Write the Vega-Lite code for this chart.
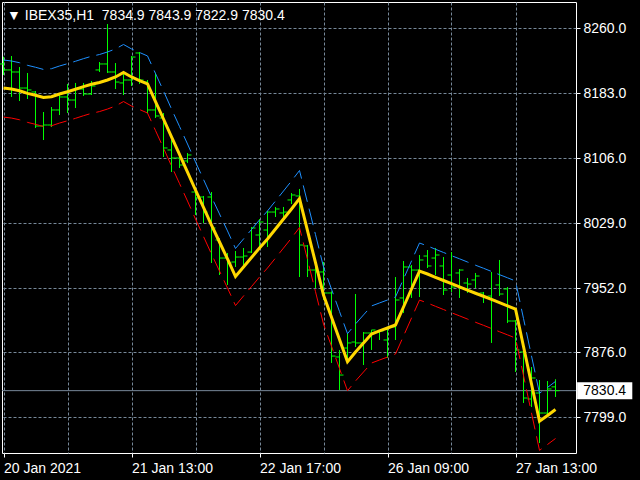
{
  "$schema": "https://vega.github.io/schema/vega-lite/v6.json",
  "width": 574,
  "height": 451,
  "autosize": {"type": "none"},
  "padding": {"left": 2, "top": 2, "right": 64, "bottom": 27},
  "background": "#000000",
  "config": {"view": {"stroke": "#ffffff", "strokeWidth": 1, "fill": "#000000"}},
  "resolve": {"axis": {"x": "independent", "y": "independent"}},
  "datasets": {
    "bars": [
      {"i":0,"o":8217.4,"h":8226.0,"l":8204.3,"c":8210.3,"ma":8188.9,"up":8222.1,"dn":8154.5},
      {"i":1,"o":8210.3,"h":8226.8,"l":8178.3,"c":8207.9,"ma":8187.7,"up":8220.9,"dn":8153.3},
      {"i":2,"o":8207.9,"h":8213.8,"l":8173.5,"c":8188.9,"ma":8185.7,"up":8218.9,"dn":8151.3},
      {"i":3,"o":8188.9,"h":8206.7,"l":8175.9,"c":8186.6,"ma":8182.6,"up":8215.8,"dn":8148.2},
      {"i":4,"o":8184.2,"h":8185.4,"l":8141.5,"c":8143.9,"ma":8180.3,"up":8213.5,"dn":8145.9},
      {"i":5,"o":8143.9,"h":8160.5,"l":8127.3,"c":8145.1,"ma":8177.7,"up":8210.9,"dn":8143.3},
      {"i":6,"o":8145.1,"h":8166.4,"l":8142.7,"c":8162.9,"ma":8178.6,"up":8211.8,"dn":8144.2},
      {"i":7,"o":8162.9,"h":8180.6,"l":8156.9,"c":8178.3,"ma":8181.8,"up":8215.0,"dn":8147.4},
      {"i":8,"o":8178.3,"h":8193.7,"l":8159.3,"c":8174.7,"ma":8184.5,"up":8217.7,"dn":8150.1},
      {"i":9,"o":8174.7,"h":8194.9,"l":8165.2,"c":8187.7,"ma":8187.4,"up":8220.6,"dn":8153.0},
      {"i":10,"o":8187.7,"h":8194.9,"l":8179.5,"c":8181.8,"ma":8190.5,"up":8223.7,"dn":8156.1},
      {"i":11,"o":8181.8,"h":8197.2,"l":8180.6,"c":8191.3,"ma":8193.3,"up":8226.5,"dn":8158.9},
      {"i":12,"o":8210.3,"h":8219.7,"l":8207.9,"c":8217.4,"ma":8195.4,"up":8228.6,"dn":8161.0},
      {"i":13,"o":8217.4,"h":8264.7,"l":8206.7,"c":8207.9,"ma":8198.4,"up":8231.6,"dn":8164.0},
      {"i":14,"o":8207.9,"h":8218.5,"l":8187.7,"c":8196.0,"ma":8202.0,"up":8235.2,"dn":8167.6},
      {"i":15,"o":8194.9,"h":8207.3,"l":8180.6,"c":8198.4,"ma":8207.3,"up":8240.5,"dn":8172.9},
      {"i":16,"o":8198.4,"h":8226.8,"l":8191.3,"c":8225.6,"ma":8202.0,"up":8235.2,"dn":8167.6},
      {"i":17,"o":8230.4,"h":8231.6,"l":8193.7,"c":8198.4,"ma":8197.8,"up":8231.0,"dn":8163.4},
      {"i":18,"o":8196.0,"h":8198.4,"l":8159.3,"c":8162.9,"ma":8193.7,"up":8226.9,"dn":8159.3},
      {"i":19,"o":8162.9,"h":8206.7,"l":8153.4,"c":8155.8,"ma":8172.9,"up":8206.1,"dn":8138.5},
      {"i":20,"o":8153.4,"h":8159.3,"l":8107.2,"c":8117.9,"ma":8152.2,"up":8185.4,"dn":8117.8},
      {"i":21,"o":8115.5,"h":8127.3,"l":8089.4,"c":8106.0,"ma":8130.9,"up":8164.1,"dn":8096.5},
      {"i":22,"o":8106.0,"h":8107.2,"l":8094.2,"c":8097.7,"ma":8110.2,"up":8143.4,"dn":8075.8},
      {"i":23,"o":8102.5,"h":8111.9,"l":8100.1,"c":8109.6,"ma":8089.4,"up":8122.6,"dn":8055.0},
      {"i":24,"o":8065.7,"h":8070.5,"l":8038.5,"c":8058.6,"ma":8068.1,"up":8101.3,"dn":8033.7},
      {"i":25,"o":8059.8,"h":8061.0,"l":8029.0,"c":8042.0,"ma":8047.4,"up":8080.6,"dn":8013.0},
      {"i":26,"o":8059.8,"h":8065.7,"l":7981.6,"c":8023.1,"ma":8026.6,"up":8059.8,"dn":7992.2},
      {"i":27,"o":8008.9,"h":8011.2,"l":7967.4,"c":7987.5,"ma":8006.5,"up":8039.7,"dn":7972.1},
      {"i":28,"o":7987.5,"h":7993.5,"l":7955.6,"c":7981.6,"ma":7986.4,"up":8019.6,"dn":7952.0},
      {"i":29,"o":7982.8,"h":7995.8,"l":7976.9,"c":7988.7,"ma":7965.6,"up":7998.8,"dn":7931.2},
      {"i":30,"o":7988.7,"h":7999.4,"l":7976.9,"c":7989.9,"ma":7976.9,"up":8010.1,"dn":7942.5},
      {"i":31,"o":7994.6,"h":8024.3,"l":7993.5,"c":8023.1,"ma":7988.1,"up":8021.3,"dn":7953.7},
      {"i":32,"o":8014.8,"h":8033.7,"l":8000.6,"c":8030.2,"ma":7999.4,"up":8032.6,"dn":7965.0},
      {"i":33,"o":8020.7,"h":8043.2,"l":8000.6,"c":8042.0,"ma":8010.1,"up":8043.3,"dn":7975.7},
      {"i":34,"o":8042.0,"h":8048.0,"l":8036.1,"c":8045.6,"ma":8021.9,"up":8055.1,"dn":7987.5},
      {"i":35,"o":8040.9,"h":8048.0,"l":8036.1,"c":8042.0,"ma":8033.7,"up":8066.9,"dn":7999.3},
      {"i":36,"o":8056.3,"h":8064.5,"l":8051.5,"c":8062.2,"ma":8045.6,"up":8078.8,"dn":8011.2},
      {"i":37,"o":8061.0,"h":8069.3,"l":7965.0,"c":8002.9,"ma":8058.0,"up":8091.2,"dn":8023.6},
      {"i":38,"o":8001.8,"h":8002.9,"l":7965.0,"c":7973.3,"ma":8020.1,"up":8053.3,"dn":7985.7},
      {"i":39,"o":7973.3,"h":7976.9,"l":7952.0,"c":7971.0,"ma":7982.0,"up":8015.2,"dn":7947.6},
      {"i":40,"o":7971.0,"h":7982.8,"l":7937.8,"c":7946.1,"ma":7943.7,"up":7976.9,"dn":7909.3},
      {"i":41,"o":7946.1,"h":7948.0,"l":7863.2,"c":7871.4,"ma":7917.4,"up":7950.6,"dn":7883.0},
      {"i":42,"o":7870.3,"h":7878.6,"l":7831.2,"c":7848.9,"ma":7891.0,"up":7924.2,"dn":7856.6},
      {"i":43,"o":7880.9,"h":7898.7,"l":7866.7,"c":7886.9,"ma":7864.7,"up":7897.9,"dn":7830.3},
      {"i":44,"o":7888.0,"h":7944.9,"l":7882.1,"c":7886.9,"ma":7876.2,"up":7909.4,"dn":7841.8},
      {"i":45,"o":7886.9,"h":7899.9,"l":7860.8,"c":7898.7,"ma":7886.9,"up":7920.1,"dn":7852.5},
      {"i":46,"o":7898.7,"h":7902.3,"l":7878.6,"c":7902.3,"ma":7897.5,"up":7930.7,"dn":7863.1},
      {"i":47,"o":7899.9,"h":7902.3,"l":7890.4,"c":7901.1,"ma":7901.1,"up":7934.3,"dn":7866.7},
      {"i":48,"o":7890.4,"h":7905.8,"l":7869.1,"c":7905.8,"ma":7904.6,"up":7937.8,"dn":7870.2},
      {"i":49,"o":7905.8,"h":7965.0,"l":7890.4,"c":7937.8,"ma":7908.2,"up":7941.4,"dn":7873.8},
      {"i":50,"o":7940.2,"h":7984.0,"l":7922.4,"c":7976.9,"ma":7929.5,"up":7962.7,"dn":7895.1},
      {"i":51,"o":7976.9,"h":7979.3,"l":7940.2,"c":7973.3,"ma":7950.8,"up":7984.0,"dn":7916.4},
      {"i":52,"o":7973.3,"h":7991.1,"l":7941.3,"c":7985.2,"ma":7972.1,"up":8005.3,"dn":7937.7},
      {"i":53,"o":7989.9,"h":7997.0,"l":7975.7,"c":7978.1,"ma":7968.6,"up":8001.8,"dn":7934.2},
      {"i":54,"o":7987.5,"h":7999.4,"l":7967.4,"c":7991.1,"ma":7964.7,"up":7997.9,"dn":7930.3},
      {"i":55,"o":7978.1,"h":7988.7,"l":7943.7,"c":7949.6,"ma":7960.9,"up":7994.1,"dn":7926.5},
      {"i":56,"o":7967.4,"h":7994.6,"l":7947.3,"c":7953.2,"ma":7957.1,"up":7990.3,"dn":7922.7},
      {"i":57,"o":7969.8,"h":7974.5,"l":7940.2,"c":7973.3,"ma":7953.4,"up":7986.6,"dn":7919.0},
      {"i":58,"o":7957.9,"h":7963.9,"l":7946.1,"c":7956.7,"ma":7949.6,"up":7982.8,"dn":7915.2},
      {"i":59,"o":7961.5,"h":7969.8,"l":7952.0,"c":7966.2,"ma":7945.8,"up":7979.0,"dn":7911.4},
      {"i":60,"o":7946.1,"h":7947.3,"l":7934.2,"c":7941.3,"ma":7942.2,"up":7975.4,"dn":7907.8},
      {"i":61,"o":7942.5,"h":7971.0,"l":7886.9,"c":7937.8,"ma":7938.4,"up":7971.6,"dn":7904.0},
      {"i":62,"o":7955.6,"h":7985.2,"l":7942.5,"c":7944.9,"ma":7934.6,"up":7967.8,"dn":7900.2},
      {"i":63,"o":7950.8,"h":7953.2,"l":7910.5,"c":7912.9,"ma":7930.9,"up":7964.1,"dn":7896.5},
      {"i":64,"o":7912.9,"h":7914.0,"l":7852.5,"c":7878.6,"ma":7927.1,"up":7960.3,"dn":7892.7},
      {"i":65,"o":7876.2,"h":7879.7,"l":7815.8,"c":7821.7,"ma":7882.7,"up":7915.9,"dn":7848.3},
      {"i":66,"o":7820.5,"h":7858.4,"l":7811.0,"c":7845.4,"ma":7838.3,"up":7871.5,"dn":7803.9},
      {"i":67,"o":7827.6,"h":7843.0,"l":7768.4,"c":7803.9,"ma":7794.1,"up":7827.3,"dn":7759.7},
      {"i":68,"o":7803.9,"h":7841.8,"l":7799.2,"c":7832.4,"ma":7801.0,"up":7834.2,"dn":7766.6},
      {"i":69,"o":7834.9,"h":7843.9,"l":7822.9,"c":7830.4,"ma":7808.1,"up":7841.3,"dn":7773.7}
    ],
    "bid": [{"price": 7830.4, "label": "7830.4"}],
    "head": [{"t": "▼ IBEX35,H1\u00a0\u00a07834.9 7843.9 7822.9 7830.4"}]
  },
  "layer": [
    {
      "data": {"name": "bid"},
      "mark": {"type": "rule", "color": "#778899", "strokeWidth": 1},
      "encoding": {
        "y": {"field": "price", "type": "quantitative", "scale": {"domain": [7756.54, 8290.8], "nice": false, "zero": false}, "axis": null}
      }
    },
    {
      "data": {"name": "bars"},
      "mark": {"type": "rule", "color": "#00ff00", "strokeWidth": 1},
      "encoding": {
        "x": {"field": "i", "type": "quantitative", "scale": {"domain": [-0.1875, 71.5625], "nice": false, "zero": false},
          "axis": {"values": [0, 8, 16, 24, 32, 40, 48, 56, 64], "title": null, "grid": true, "gridColor": "#778899", "gridDash": [3, 2], "gridWidth": 1, "domain": false, "tickColor": "#ffffff", "tickSize": 4, "tickWidth": 1,
            "tickOpacity": {"condition": {"test": "datum.value % 16 === 0", "value": 1}, "value": 0},
            "labelExpr": "datum.value == 0 ? '20 Jan 2021' : datum.value == 16 ? '21 Jan 13:00' : datum.value == 32 ? '22 Jan 17:00' : datum.value == 48 ? '26 Jan 09:00' : datum.value == 64 ? '27 Jan 13:00' : ''",
            "labelColor": "#ffffff", "labelFont": "Liberation Sans", "labelFontSize": 14, "labelAlign": "left", "labelBaseline": "top", "labelPadding": 4, "labelOverlap": false, "labelBound": false, "labelFlush": false}},
        "y": {"field": "l", "type": "quantitative", "scale": {"domain": [7756.54, 8290.8], "nice": false, "zero": false},
          "axis": {"orient": "right", "values": [7799, 7876, 7952, 8029, 8106, 8183, 8260], "format": ".1f", "title": null, "grid": true, "gridColor": "#778899", "gridDash": [3, 2], "gridWidth": 1, "domain": false, "tickColor": "#ffffff", "tickSize": 4, "labelColor": "#ffffff", "labelFont": "Liberation Sans", "labelFontSize": 14, "labelPadding": 3, "labelAlign": "left", "labelBaseline": "middle", "labelOverlap": false, "labelBound": false, "labelFlush": false}},
        "y2": {"field": "h"}
      }
    },
    {
      "data": {"name": "bars"},
      "mark": {"type": "tick", "orient": "horizontal", "color": "#00ff00", "size": 4, "thickness": 1, "xOffset": -2, "opacity": 1},
      "encoding": {
        "x": {"field": "i", "type": "quantitative", "scale": {"domain": [-0.1875, 71.5625], "nice": false, "zero": false}, "axis": null},
        "y": {"field": "o", "type": "quantitative", "scale": {"domain": [7756.54, 8290.8], "nice": false, "zero": false}, "axis": null}
      }
    },
    {
      "data": {"name": "bars"},
      "mark": {"type": "tick", "orient": "horizontal", "color": "#00ff00", "size": 4, "thickness": 1, "xOffset": 2, "opacity": 1},
      "encoding": {
        "x": {"field": "i", "type": "quantitative", "scale": {"domain": [-0.1875, 71.5625], "nice": false, "zero": false}, "axis": null},
        "y": {"field": "c", "type": "quantitative", "scale": {"domain": [7756.54, 8290.8], "nice": false, "zero": false}, "axis": null}
      }
    },
    {
      "data": {"name": "bars"},
      "mark": {"type": "line", "color": "#1e90ff", "strokeWidth": 1, "strokeDash": [17, 7]},
      "encoding": {
        "x": {"field": "i", "type": "quantitative", "scale": {"domain": [-0.1875, 71.5625], "nice": false, "zero": false}, "axis": null},
        "y": {"field": "up", "type": "quantitative", "scale": {"domain": [7756.54, 8290.8], "nice": false, "zero": false}, "axis": null}
      }
    },
    {
      "data": {"name": "bars"},
      "mark": {"type": "line", "color": "#ff0000", "strokeWidth": 1, "strokeDash": [17, 7]},
      "encoding": {
        "x": {"field": "i", "type": "quantitative", "scale": {"domain": [-0.1875, 71.5625], "nice": false, "zero": false}, "axis": null},
        "y": {"field": "dn", "type": "quantitative", "scale": {"domain": [7756.54, 8290.8], "nice": false, "zero": false}, "axis": null}
      }
    },
    {
      "data": {"name": "bars"},
      "mark": {"type": "line", "color": "#ffd700", "strokeWidth": 3},
      "encoding": {
        "x": {"field": "i", "type": "quantitative", "scale": {"domain": [-0.1875, 71.5625], "nice": false, "zero": false}, "axis": null},
        "y": {"field": "ma", "type": "quantitative", "scale": {"domain": [7756.54, 8290.8], "nice": false, "zero": false}, "axis": null}
      }
    },
    {
      "data": {"name": "bid"},
      "mark": {"type": "rect", "color": "#ffffff", "height": 17},
      "encoding": {
        "x": {"datum": 71.7, "type": "quantitative", "scale": {"domain": [-0.1875, 71.5625], "nice": false, "zero": false}, "axis": null},
        "x2": {"datum": 78.6},
        "y": {"field": "price", "type": "quantitative", "scale": {"domain": [7756.54, 8290.8], "nice": false, "zero": false}, "axis": null}
      }
    },
    {
      "data": {"name": "bid"},
      "mark": {"type": "text", "color": "#000000", "font": "Liberation Sans", "fontSize": 14, "align": "center", "baseline": "middle"},
      "encoding": {
        "x": {"datum": 75.15, "type": "quantitative", "scale": {"domain": [-0.1875, 71.5625], "nice": false, "zero": false}, "axis": null},
        "y": {"field": "price", "type": "quantitative", "scale": {"domain": [7756.54, 8290.8], "nice": false, "zero": false}, "axis": null},
        "text": {"field": "label", "type": "nominal"}
      }
    },
    {
      "data": {"name": "head"},
      "mark": {"type": "text", "color": "#ffffff", "font": "Liberation Sans", "fontSize": 14, "align": "left", "baseline": "alphabetic"},
      "encoding": {
        "x": {"datum": 0.44, "type": "quantitative", "scale": {"domain": [-0.1875, 71.5625], "nice": false, "zero": false}, "axis": null},
        "y": {"datum": 8269.5, "type": "quantitative", "scale": {"domain": [7756.54, 8290.8], "nice": false, "zero": false}, "axis": null},
        "text": {"field": "t", "type": "nominal"}
      }
    }
  ]
}
